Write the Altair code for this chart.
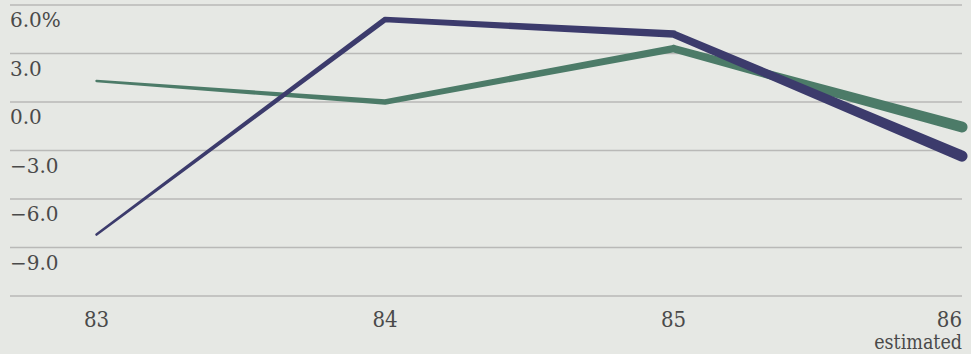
import altair as alt
import pandas as pd

years = [83, 84, 85, 86]
navy_vals = [-8.2, 5.1, 4.2, -3.35]
green_vals = [1.3, 0.0, 3.3, -1.55]
series_names = ["Series 1", "Series 2"]

grid_values = [6, 3, 0, -3, -6, -9, -12]
y_tick_values = [6, 3, 0, -3, -6, -9]
y_tick_labels = ["6.0%", "3.0", "0.0", "\u22123.0", "\u22126.0", "\u22129.0"]
x_tick_values = [83, 84, 85]
x_tick_labels = ["83", "84", "85"]
last_year = [86]
last_label = ["86"]
note_label = ["estimated"]

TEXT = "#4a4a4a"
W, H = 952, 291

df = pd.DataFrame({
    "year": years * 2,
    "value": navy_vals + green_vals,
    "series": [series_names[0]] * 4 + [series_names[1]] * 4,
})

xs = alt.Scale(domain=[82.7, 86])
ys = alt.Scale(domain=[-12, 6])

grid = alt.Chart(pd.DataFrame({"g": grid_values})).mark_rule(
    color="#b9b9b7", strokeWidth=1.5
).encode(y=alt.Y("g:Q", scale=ys, axis=None))

ylab = alt.Chart(pd.DataFrame({"v": y_tick_values, "t": y_tick_labels})).mark_text(
    align="left", baseline="top", dy=6, font="DejaVu Serif", fontSize=20, color=TEXT
).encode(x=alt.value(0), y=alt.Y("v:Q", scale=ys, axis=None), text="t:N")

xlab = alt.Chart(pd.DataFrame({"v": x_tick_values, "t": x_tick_labels})).mark_text(
    align="center", baseline="alphabetic", font="DejaVu Serif Condensed", fontSize=22, color=TEXT
).encode(x=alt.X("v:Q", scale=xs, axis=None), y=alt.value(H + 31), text="t:N")

xlab_last = alt.Chart(pd.DataFrame({"v": last_year, "t": last_label})).mark_text(
    align="right", baseline="alphabetic", font="DejaVu Serif Condensed", fontSize=22, color=TEXT
).encode(x=alt.X("v:Q", scale=xs, axis=None), y=alt.value(H + 31), text="t:N")

note = alt.Chart(pd.DataFrame({"v": last_year, "t": note_label})).mark_text(
    align="right", baseline="alphabetic", font="DejaVu Serif Condensed", fontSize=19.5, color=TEXT
).encode(x=alt.X("v:Q", scale=xs, axis=None), y=alt.value(H + 53), text="t:N")

lines = alt.Chart(df).mark_trail().encode(
    x=alt.X("year:Q", scale=xs, axis=None),
    y=alt.Y("value:Q", scale=ys, axis=None),
    color=alt.Color("series:N", scale=alt.Scale(domain=series_names, range=["#3c3b6c", "#4c7b68"]), legend=None),
    size=alt.Size("year:Q", scale=alt.Scale(domain=[83, 84, 85, 86], range=[2.5, 5.5, 7.5, 11]), legend=None),
    detail="series:N",
    order=alt.Order("year:Q"),
)

green_line = lines.transform_filter(alt.datum.series == series_names[1])
navy_line = lines.transform_filter(alt.datum.series == series_names[0])

chart = alt.layer(grid, ylab, xlab, xlab_last, note, green_line, navy_line).properties(
    width=W, height=H,
    padding={"left": 10, "top": 5, "right": 9, "bottom": 58},
    autosize=alt.AutoSizeParams(type="none"),
    background="#e6e8e4",
).configure_view(stroke=None)

chart.save("out.html", embed_options={"renderer": "svg", "actions": False})
